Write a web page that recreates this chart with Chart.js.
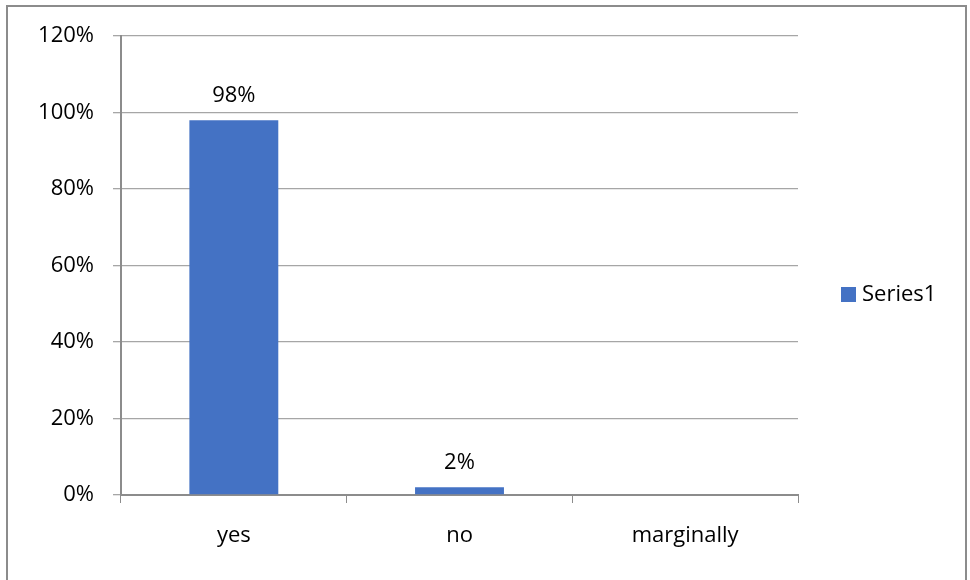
<!DOCTYPE html>
<html>
<head>
<meta charset="utf-8">
<script src="https://cdn.jsdelivr.net/npm/chart.js@4.4.1/dist/chart.umd.min.js"></script>
<style>
  html, body { margin: 0; padding: 0; background: #fff; }
  #wrap { position: relative; width: 970px; height: 580px; overflow: hidden; }
  #frame {
    position: absolute; left: 6px; top: 5px; width: 961px; height: 600px;
    border: 2px solid #8c8c8c; box-sizing: border-box;
  }
  canvas { position: absolute; left: 0; top: 0; }
</style>
</head>
<body>
<div id="wrap">
  <div id="frame"></div>
  <canvas id="chart" width="970" height="580"></canvas>
</div>
<script>
// chart data
const categories = ["yes", "no", "marginally"]
const seriesName = "Series1"
const seriesValues = [98, 2, 0]
const yTicks = [0, 20, 40, 60, 80, 100, 120]

const barColor = "#4472C4"
const fontFamily = "'Open Sans', Lato, sans-serif"

// value labels above bars
const valueLabels = {
  id: "valueLabels",
  afterDatasetsDraw(chart) {
    const ctx = chart.ctx
    const meta = chart.getDatasetMeta(0)
    ctx.save()
    ctx.font = "22px " + fontFamily
    ctx.fillStyle = "#000"
    ctx.textAlign = "center"
    ctx.textBaseline = "alphabetic"
    meta.data.forEach((bar, i) => {
      const v = chart.data.datasets[0].data[i]
      if (!v) return
      ctx.fillText(v + "%", bar.x, bar.y - 18)
    })
    ctx.restore()
  },
}

// legend drawn to the right of the plot
const sideLegend = {
  id: "sideLegend",
  afterDraw(chart) {
    const ctx = chart.ctx
    const ds = chart.data.datasets[0]
    const x = chart.chartArea.right + 43
    const y = 294
    ctx.save()
    ctx.fillStyle = ds.backgroundColor
    ctx.fillRect(x, y - 7, 15, 15)
    ctx.font = "22px " + fontFamily
    ctx.fillStyle = "#000"
    ctx.textAlign = "left"
    ctx.textBaseline = "middle"
    ctx.fillText(ds.label, x + 21, y + 1)
    ctx.restore()
  },
}

new Chart(document.getElementById("chart"), {
  type: "bar",
  data: {
    labels: categories,
    datasets: [
      {
        label: seriesName,
        data: seriesValues,
        backgroundColor: barColor,
        borderWidth: 0,
        barPercentage: 1,
        categoryPercentage: 0.394,
      },
    ],
  },
  options: {
    responsive: false,
    animation: false,
    layout: {
      padding: { left: 0, top: 36, right: 172, bottom: 0 },
    },
    plugins: {
      legend: { display: false },
      tooltip: { enabled: false },
    },
    scales: {
      x: {
        afterFit: (scale) => {
          scale.height = 85
        },
        grid: {
          offset: true,
          drawOnChartArea: false,
          drawTicks: true,
          tickLength: 8,
          color: "#8c8c8c",
          lineWidth: 1,
        },
        border: { color: "#8c8c8c", width: 2 },
        ticks: {
          padding: 20,
          color: "#000",
          font: { family: fontFamily, size: 22 },
          maxRotation: 0,
        },
      },
      y: {
        min: 0,
        max: 120,
        afterFit: (scale) => {
          scale.width = 121
        },
        afterBuildTicks: (scale) => {
          scale.ticks = yTicks.map((v) => ({ value: v }))
        },
        grid: {
          color: "#a6a6a6",
          lineWidth: 1.3,
          drawTicks: true,
          tickLength: 8,
        },
        border: { color: "#8c8c8c", width: 2 },
        ticks: {
          padding: 19,
          color: "#000",
          font: { family: fontFamily, size: 22 },
          callback: (v) => v + "%",
        },
      },
    },
  },
  plugins: [valueLabels, sideLegend],
})
</script>
</body>
</html>
